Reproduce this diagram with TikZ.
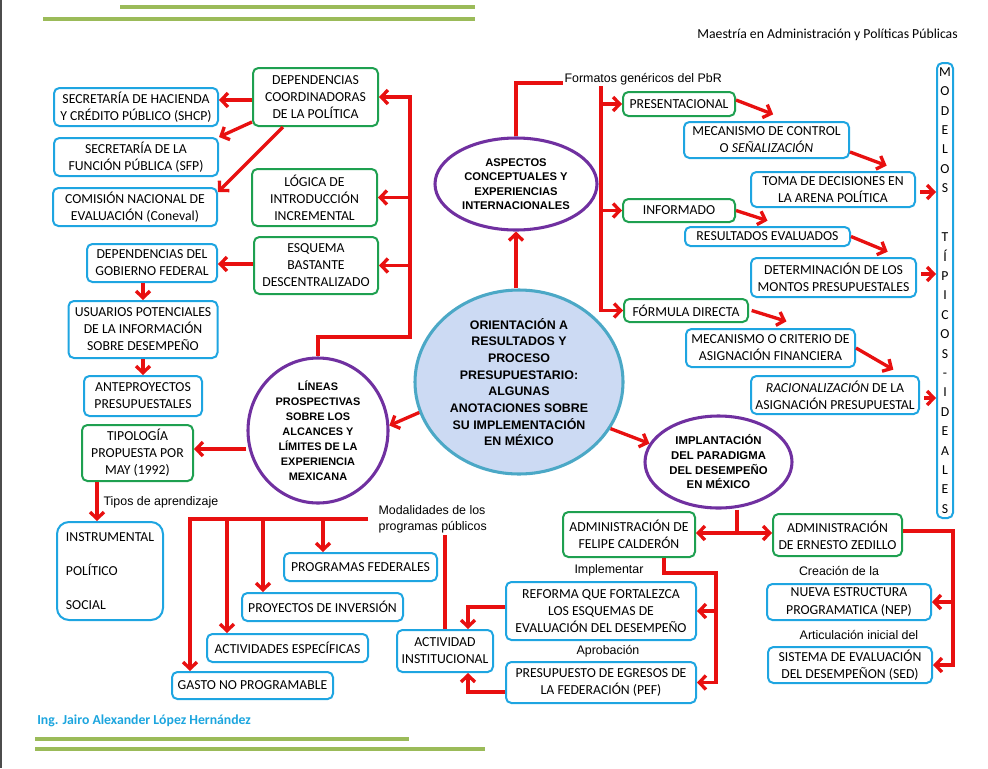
\documentclass[tikz,border=0pt]{standalone}
\usepackage{fontspec}
\setmainfont{Carlito}
\newfontfamily\arialf{Liberation Sans}
\usetikzlibrary{arrows.meta,shapes.geometric}
\definecolor{cblue}{RGB}{30,165,225}
\definecolor{cgreen}{RGB}{30,160,80}
\definecolor{cpurple}{RGB}{112,48,160}
\definecolor{cteal}{RGB}{75,168,198}
\definecolor{cfill}{RGB}{204,218,243}
\definecolor{cred}{RGB}{232,16,16}
\definecolor{colive}{RGB}{155,187,89}
\definecolor{cauthor}{RGB}{28,165,222}

\begin{document}
\begin{tikzpicture}[x=0.75pt,y=-0.75pt]
		\tikzset{bbox/.style = {draw=cblue, line width=1.5pt, rounded corners=4pt,
			align=center, inner sep=1pt, fill=white,
			font=\fontsize{10.3}{12.8}\selectfont}}
		\tikzset{gbox/.style = {bbox, draw=cgreen}}
		\tikzset{sz/.style 2 args = {minimum width=#1*0.75pt, minimum height=#2*0.75pt}}
		\tikzset{oval/.style = {ellipse, draw=cpurple, line width=2.3pt, fill=white,
			align=center, inner sep=0pt}}
		\tikzset{lbl/.style = {font=\arialf\fontsize{9.3}{11.8}\selectfont, inner sep=1pt}}
		\tikzset{wire/.style = {draw=cred, line width=2.5pt}}
		\tikzset{link/.style = {wire, -{Straight Barb[length=5pt,width=10.5pt]}}}
		\tikzset{gline/.style = {draw=colive, line width=3pt}}
		\useasboundingbox (0,0) rectangle (988,768);
		% page decoration
		\draw[black!70, line width=1.5pt] (1,0) -- (1,768);
		\draw[gline] (120,7) -- (475,7);
		\draw[gline] (43,19) -- (475,19);
		\draw[gline] (35,739) -- (409,739);
		\draw[gline] (35,749) -- (485,749);
		\node[anchor=east, inner sep=0pt, font=\fontsize{10.3}{12}\selectfont] (hdr) at (958,35)
			{Maestría en Administración y Políticas Públicas};
		\node[anchor=west, inner sep=0pt, text=cauthor, font=\bfseries\fontsize{10.3}{12}\selectfont] (aut) at (37,721)
			{Ing. Jairo Alexander López Hernández};

		% ovals
		\node[oval, draw=cteal, fill=cfill, sz={208}{184},
			font=\arialf\bfseries\fontsize{9.3}{12.5}\selectfont] (ctr) at (519,382)
			{ORIENTACIÓN A\\RESULTADOS Y\\PROCESO\\PRESUPUESTARIO:\\ALGUNAS\\ANOTACIONES SOBRE\\SU IMPLEMENTACIÓN\\EN MÉXICO};
		\node[oval, sz={162}{92}, font=\arialf\bfseries\fontsize{8.4}{10.8}\selectfont] (asp) at (516,184)
			{ASPECTOS\\CONCEPTUALES Y\\EXPERIENCIAS\\INTERNACIONALES};
		\node[oval, sz={140}{145}, font=\arialf\bfseries\fontsize{8.2}{11.2}\selectfont] (lin) at (318,430.5)
			{LÍNEAS\\PROSPECTIVAS\\SOBRE LOS\\ALCANCES Y\\LÍMITES DE LA\\EXPERIENCIA\\MEXICANA};
		\node[oval, sz={147}{92}, font=\arialf\bfseries\fontsize{8.5}{11}\selectfont] (imp) at (718.5,462)
			{IMPLANTACIÓN\\DEL PARADIGMA\\DEL DESEMPEÑO\\EN MÉXICO};

		% left boxes
		\node[bbox, sz={164}{38}] (shcp) at (136,107) {SECRETARÍA DE HACIENDA\\Y CRÉDITO PÚBLICO (SHCP)};
		\node[bbox, sz={164}{38}] (sfp) at (136,157) {SECRETARÍA DE LA\\FUNCIÓN PÚBLICA (SFP)};
		\node[bbox, sz={164}{38}] (cnv) at (135,207) {COMISIÓN NACIONAL DE\\EVALUACIÓN (Coneval)};
		\node[gbox, sz={125}{58}] (dc) at (315.5,97) {DEPENDENCIAS\\COORDINADORAS\\DE LA POLÍTICA};
		\node[gbox, sz={125}{57}] (lg) at (314.5,197.5) {LÓGICA DE\\INTRODUCCIÓN\\INCREMENTAL};
		\node[gbox, sz={124}{57}] (esq) at (316,265.5) {ESQUEMA\\BASTANTE\\DESCENTRALIZADO};
		\node[bbox, sz={130}{38}] (dgf) at (152,263) {DEPENDENCIAS DEL\\GOBIERNO FEDERAL};
		\node[bbox, sz={149}{57}] (upi) at (143,329.5) {USUARIOS POTENCIALES\\DE LA INFORMACIÓN\\SOBRE DESEMPEÑO};
		\node[bbox, sz={118}{40}] (ant) at (143,396) {ANTEPROYECTOS\\PRESUPUESTALES};
		\node[gbox, sz={111}{56}] (tip) at (137.5,453) {TIPOLOGÍA\\PROPUESTA POR\\MAY (1992)};
		\node[bbox, sz={106}{98}, rounded corners=9pt, align=left,
			font=\fontsize{10.3}{25.5}\selectfont] (ins) at (110,571) {INSTRUMENTAL\\POLÍTICO\\SOCIAL};

		% bottom boxes
		\node[bbox, sz={153}{28}] (pf) at (360.5,567) {PROGRAMAS FEDERALES};
		\node[bbox, sz={161}{28}] (pi) at (322.5,607) {PROYECTOS DE INVERSIÓN};
		\node[bbox, sz={161}{28}] (ae) at (287.5,648) {ACTIVIDADES ESPECÍFICAS};
		\node[bbox, sz={161}{27}] (gnp) at (252.5,685.5) {GASTO NO PROGRAMABLE};
		\node[bbox, sz={96}{42}] (ai) at (445,651) {ACTIVIDAD\\INSTITUCIONAL};
		\node[gbox, sz={132}{45}] (fc) at (629,534.5) {ADMINISTRACIÓN DE\\FELIPE CALDERÓN};
		\node[gbox, sz={129}{42}] (ez) at (837.5,535) {ADMINISTRACIÓN\\DE ERNESTO ZEDILLO};
		\node[bbox, sz={190}{58}] (ref) at (601,611) {REFORMA QUE FORTALEZCA\\LOS ESQUEMAS DE\\EVALUACIÓN DEL DESEMPEÑO};
		\node[bbox, sz={190}{41}] (pef) at (601,682.5) {PRESUPUESTO DE EGRESOS DE\\LA FEDERACIÓN (PEF)};
		\node[bbox, sz={164}{36}] (nep) at (849,602) {NUEVA ESTRUCTURA\\PROGRAMATICA (NEP)};
		\node[bbox, sz={164}{36}] (sed) at (850,665) {SISTEMA DE EVALUACIÓN\\DEL DESEMPEÑON (SED)};

		% right boxes
		\node[gbox, sz={112}{24}] (pres) at (679,104) {PRESENTACIONAL};
		\node[gbox, sz={112}{23}] (inf) at (679,210.5) {INFORMADO};
		\node[gbox, sz={124}{23}] (fd) at (686,310.5) {FÓRMULA DIRECTA};
		\node[bbox, sz={165}{36}] (mc) at (766.5,140) {MECANISMO DE CONTROL\\O \textit{SEÑALIZACIÓN}};
		\node[bbox, sz={164}{35}] (td) at (833,189.5) {TOMA DE DECISIONES EN\\LA ARENA POLÍTICA};
		\node[bbox, sz={165}{19}] (re) at (767.5,236.5) {RESULTADOS EVALUADOS};
		\node[bbox, sz={165}{39}] (dm) at (833.5,277.5) {DETERMINACIÓN DE LOS\\MONTOS PRESUPUESTALES};
		\node[bbox, sz={169}{38}] (mcf) at (770.5,348) {MECANISMO O CRITERIO DE\\ASIGNACIÓN FINANCIERA};
		\node[bbox, sz={168}{38}] (rac) at (835,395) {\textit{RACIONALIZACIÓN} DE LA\\ASIGNACIÓN PRESUPUESTAL};
		\node[bbox, sz={16}{455}, inner sep=0pt, font=\fontsize{10.3}{14.55}\selectfont] (mod) at (945,290.5)
			{M\\O\\D\\E\\L\\O\\S\\[22.2pt]T\\Í\\P\\I\\C\\O\\S\\-\\I\\D\\E\\A\\L\\E\\S};

		% labels
		\node[lbl, anchor=west] (fmt) at (563,79) {Formatos genéricos del PbR};
		\node[lbl, anchor=west] (tap) at (102,502) {Tipos de aprendizaje};
		\node[lbl, anchor=west, align=left] (mdl) at (377,519.5) {Modalidades de los\\programas públicos};
		\node[lbl] (impl) at (609,570) {Implementar};
		\node[lbl] (apr) at (608,651) {Aprobación};
		\node[lbl] (cre) at (839,571) {Creación de la};
		\node[lbl] (art) at (859,635) {Articulación inicial del};

		% junctions
		\coordinate (lt) at (410,337);
		\coordinate (ft) at (601,0);
		\coordinate (mh) at (368,519);
		\coordinate (ij) at (737,533);
		\coordinate (cj) at (716,573);
		\coordinate (zj) at (953,531);

		%edges
		\draw[link] (ctr.north -| asp) -- (asp.south);
		\draw[link] (ctr.197) -- (lin.4);
		\draw[link] (ctr.-27) -- (imp.165);

		\draw[wire] (asp.north) |- ([yshift=-3pt]fmt.west);
		\draw[link] (fmt.south -| ft) |- (fd.west);
		\draw[link] (pres.west -| ft) -- (pres.west);
		\draw[link] (inf.west -| ft) -- (inf.west);
		\draw[link] (pres.east |- 0,100) -- ([xshift=5pt,yshift=5pt]mc.north);
		\draw[link] (mc.east |- 0,152) -- ([xshift=-22pt,yshift=4pt]td.north east);
		\draw[link] ([xshift=3pt]td.east |- 0,192) -- (mod.west |- 0,192);
		\draw[link] (inf.east) -- ([yshift=4pt]re.north);
		\draw[link] (re.east) -- ([xshift=-22pt,yshift=4pt]dm.north east);
		\draw[link] ([xshift=3pt]dm.east |- 0,274) -- (mod.west |- 0,274);
		\draw[link] ([xshift=2pt]fd.east) -- ([xshift=12pt,yshift=5pt]mcf.north);
		\draw[link] (mcf.east) -- ([xshift=-20pt,yshift=4pt]rac.north east);
		\draw[link] ([xshift=3pt]rac.east |- 0,398) -- (mod.west |- 0,398);

		\draw[link] (lin.north) |- (lt) |- (dc.east);
		\draw[link] (lt |- lg.east) -- (lg.east);
		\draw[link] (lt |- esq.east) -- (esq.east);
		\draw[link] (dc.west |- 0,100) -- (shcp.east |- 0,100);
		\draw[link] (dc.west |- 0,122) -- (sfp.north east);
		\draw[link] (dc.south -| 283,0) -- (cnv.east |- 0,192);
		\draw[link] (esq.west |- 0,264) -- (dgf.east |- 0,264);
		\draw[link] (dgf.south -| upi) -- (upi.north);
		\draw[link] (upi.south) -- (ant.north);
		\draw[link] (lin.west |- 0,449) -- (tip.east |- 0,449);
		\draw[link] (tip.south -| 97,0) -- (ins.north -| 97,0);

		\draw[wire] (ai.north) -- (ai.north |- mdl.south);
		\draw[link] (mh) -| (gnp.north -| 190,0);
		\draw[link] (mh -| 227,0) -- (ae.north -| 227,0);
		\draw[link] (mh -| 263,0) -- (pi.north -| 263,0);
		\draw[link] (mh -| 323,0) -- (pf.north -| 323,0);
		\draw[link] (ref.west |- 0,607) -| (ai.north -| 468,0);
		\draw[link] (pef.west |- 0,692) -| (ai.south -| 468,0);

		\draw[wire] (imp.south -| ij) -- (ij);
		\draw[link] (ij) -- (fc.east |- ij);
		\draw[link] (ij) -- (ez.west |- ij);
		\draw[link] (fc.south -| 664,0) |- (cj) |- (pef.east);
		\draw[link] (cj |- ref.east) -- (ref.east);
		\draw[link] (ez.east |- zj) -- (zj) |- (sed.east);
		\draw[link] (zj |- nep.east) -- (nep.east);
\end{tikzpicture}
\end{document}
